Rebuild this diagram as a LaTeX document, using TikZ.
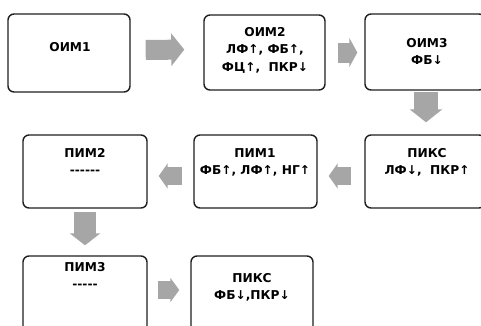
\documentclass[tikz,border=0pt]{standalone}
\usepackage{fontspec}
\setmainfont{DejaVu Sans}[BoldFont={DejaVu Sans Bold}]
\usetikzlibrary{arrows.meta}
\definecolor{arrowgray}{RGB}{166,166,166}
\definecolor{edgecol}{RGB}{30,30,30}
\newcommand{\dashrow}[1]{\foreach \k in {1,...,#1}{-}}
\begin{document}
\begin{tikzpicture}[x=1pt,y=-1pt,
  stagebox/.style={draw=edgecol, line width=1.4pt, rounded corners=6pt, inner sep=0pt},
  caption/.style={font=\bfseries\fontsize{12.2}{17.5}\selectfont, align=center, anchor=north, inner sep=0pt},
  blk/.style={draw=arrowgray, line cap=butt},
]
\useasboundingbox (0,0) rectangle (481,325);
\clip (0,0) rectangle (481,325);

% stage boxes
\node[stagebox, minimum width=122pt, minimum height=78pt] (b1) at (69,53) {};
\node[stagebox, minimum width=121pt, minimum height=75pt] (b2) at (264.5,52.5) {};
\node[stagebox, minimum width=120pt, minimum height=76pt] (b3) at (425,52) {};
\node[stagebox, minimum width=120pt, minimum height=73pt] (b4) at (425,171.5) {};
\node[stagebox, minimum width=123pt, minimum height=73pt] (b5) at (255.5,171.5) {};
\node[stagebox, minimum width=124pt, minimum height=73pt] (b6) at (85,171.5) {};
\node[stagebox, minimum width=124pt, minimum height=80pt] (b7) at (85,296) {};
\node[stagebox, minimum width=122pt, minimum height=80pt] (b8) at (252,296) {};

% captions
\node[caption] (t1) at (70,42) {ОИМ1};
\node[caption] (t2) at (265,27) {ОИМ2\\ЛФ↑, ФБ↑,\\ФЦ↑,\ \ ПКР↓};
\node[caption] (t3) at (427,38) {ОИМ3\\ФБ↓};
\node[caption] (t4) at (427,148) {ПИКС\\ЛФ↓,\ \ ПКР↑};
\node[caption] (t5) at (255,148) {ПИМ1\\ФБ↑, ЛФ↑, НГ↑};
\node[caption] (t6) at (85,148) {ПИМ2\\\dashrow{6}};
\node[caption] (t7) at (85,262) {ПИМ3\\\dashrow{5}};
\node[caption] (t8) at (252,273) {ПИКС\\ФБ↓,ПКР↓};

% block arrows between stages
\draw[blk, line width=20pt, shorten <=15pt, shorten >=19pt,
  -{Triangle[width=32pt,length=13pt]}] ([yshift=3pt]b1.east) -- ([yshift=3pt]b2.west);
\draw[blk, line width=20pt, shorten <=12pt, shorten >=7pt,
  -{Triangle[width=29pt,length=8pt]}] (b2.east) -- (b2.east -| b3.west);
\draw[blk, line width=24pt, shorten <=1pt, shorten >=12pt,
  -{Triangle[width=32pt,length=13pt]}] ([xshift=1pt]b3.south) -- ([xshift=1pt]b4.north);
\draw[blk, line width=18pt, shorten <=13pt, shorten >=11pt,
  -{Triangle[width=25pt,length=9pt]}] ([yshift=-4.5pt]b4.west) -- ([yshift=-4.5pt]b5.east);
\draw[blk, line width=18pt, shorten <=11pt, shorten >=11pt,
  -{Triangle[width=25pt,length=9pt]}] ([yshift=-4.5pt]b5.west) -- ([yshift=-4.5pt]b6.east);
\draw[blk, line width=22pt, shorten <=3pt, shorten >=10pt,
  -{Triangle[width=30pt,length=12pt]}] (b6.south) -- (b7.north);
\draw[blk, line width=18pt, shorten <=10pt, shorten >=11pt,
  -{Triangle[width=24pt,length=9pt]}] ([yshift=6pt]b7.east) -- ([yshift=6pt]b8.west);
\end{tikzpicture}
\end{document}
